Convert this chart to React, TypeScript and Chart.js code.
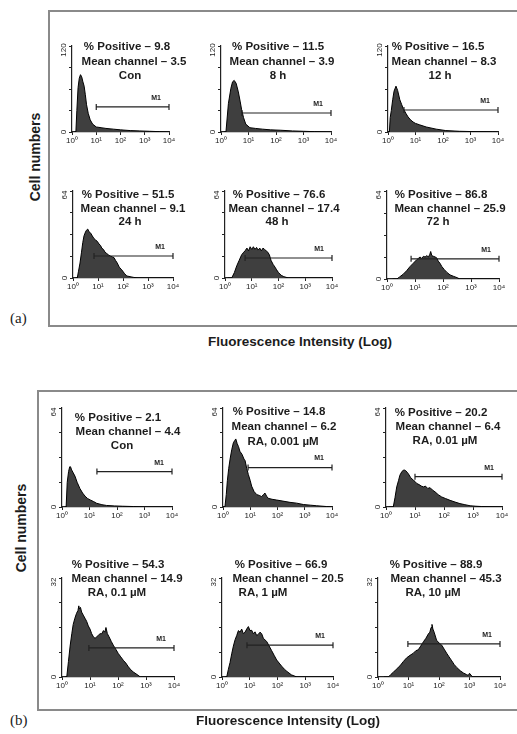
import React, { useEffect, useRef } from "react";
import { Chart, registerables } from "chart.js";
Chart.register(...registerables);

// ---------- DATA ----------
const X_TICKS = [0, 1, 2, 3, 4];
const X_TICK_LABELS = ["10⁰", "10¹", "10²", "10³", "10⁴"];

const POSITIVE = ["9.8", "11.5", "16.5", "51.5", "76.6", "86.8", "2.1", "14.8", "20.2", "54.3", "66.9", "88.9"];
const MEAN_CHANNEL = ["3.5", "3.9", "8.3", "9.1", "17.4", "25.9", "4.4", "6.2", "6.4", "14.9", "20.5", "45.3"];
const CONDITIONS = ["Con", "8 h", "12 h", "24 h", "48 h", "72 h", "Con", "RA, 0.001 µM", "RA, 0.01 µM", "RA, 0.1 µM", "RA, 1 µM", "RA, 10 µM"];
const Y_MAX = [120, 120, 120, 64, 64, 64, 64, 64, 64, 32, 32, 32];
const M1_START = [1.0, 0.76, 0.58, 0.84, 0.75, 0.86, 1.27, 0.92, 1.0, 0.96, 0.9, 0.98];
const M1_LEVEL = [35, 26.5, 30.7, 16.2, 14.7, 14.7, 22.9, 25.5, 19.6, 9.4, 10.3, 10.7];

// log10 fluorescence (x) and cell counts (y) per panel
const CON_A_X = [0.1, 0.16, 0.2, 0.25, 0.3, 0.35, 0.4, 0.45, 0.5, 0.55, 0.6, 0.67, 0.75, 0.85, 1.0, 1.2, 1.4, 1.7, 2.0, 2.4, 2.8, 3.2, 3.6, 4.0];
const CON_A_Y = [0, 0, 30, 62, 75, 80, 77, 70, 64, 52, 38, 26, 17, 11, 7, 6, 5, 4, 3, 2, 1.5, 1, 0.5, 0];

const H8_X = [0.1, 0.18, 0.27, 0.36, 0.42, 0.48, 0.55, 0.63, 0.7, 0.75, 0.82, 0.9, 1.05, 1.25, 1.5, 1.8, 2.15, 2.6, 3.0, 3.4, 4.0];
const H8_Y = [0, 0, 40, 61, 70, 72, 68, 56, 42, 31, 20, 11, 6, 5, 4, 3, 2.5, 1.5, 1, 0.5, 0];

const H12_X = [0.0, 0.05, 0.08, 0.12, 0.17, 0.22, 0.29, 0.35, 0.43, 0.5, 0.55, 0.65, 0.73, 0.82, 0.91, 1.0, 1.15, 1.39, 1.75, 2.1, 2.6, 3.2, 3.8, 4.0];
const H12_Y = [0, 0, 20, 30, 45, 57, 64, 58, 45, 38, 33, 26, 21, 17, 14, 12, 10, 7, 4, 2, 1, 0.5, 0.3, 0];

const H24_X = [0.1, 0.17, 0.22, 0.28, 0.34, 0.39, 0.44, 0.48, 0.53, 0.59, 0.64, 0.71, 0.77, 0.84, 0.9, 0.97, 1.04, 1.1, 1.15, 1.22, 1.28, 1.35, 1.42, 1.51, 1.58, 1.64, 1.7, 1.77, 1.85, 1.95, 2.05, 2.15, 2.28, 2.41, 2.6, 4.0];
const H24_Y = [0, 0, 5, 11, 19, 26, 31, 33, 35, 36, 34, 33, 31, 29, 28, 27, 25, 24, 22, 21, 19, 18, 17, 16, 15.5, 15, 13, 11, 8, 6, 3.5, 1.5, 1, 0.5, 0, 0];

const H48_X = [0.1, 0.25, 0.35, 0.44, 0.53, 0.62, 0.7, 0.75, 0.82, 0.88, 0.94, 1.0, 1.06, 1.12, 1.18, 1.24, 1.3, 1.36, 1.42, 1.48, 1.54, 1.6, 1.66, 1.72, 1.8, 1.87, 1.93, 2.0, 2.1, 2.2, 2.37, 4.0];
const H48_Y = [0, 0, 4, 9, 13, 17, 19, 20, 22, 20, 23, 21, 23, 21, 22.5, 20.5, 22, 20, 22, 21, 20, 19, 17, 13, 10, 8, 6, 4, 2, 1, 0, 0];

const H72_X = [0.2, 0.35, 0.45, 0.58, 0.7, 0.82, 0.94, 1.06, 1.12, 1.18, 1.24, 1.3, 1.36, 1.42, 1.48, 1.53, 1.56, 1.6, 1.66, 1.72, 1.77, 1.83, 1.89, 1.96, 2.04, 2.13, 2.25, 2.37, 2.5, 2.6, 4.0];
const H72_Y = [0, 0, 1.5, 3.5, 6, 9, 11.5, 14, 15, 16, 15, 16.5, 16, 17, 16, 18, 20, 17, 16.5, 16, 15.5, 13, 11.5, 9, 7, 5, 3, 2, 1, 0, 0];

const CON_B_X = [0.1, 0.15, 0.19, 0.24, 0.28, 0.31, 0.35, 0.41, 0.47, 0.55, 0.65, 0.75, 0.84, 0.93, 1.02, 1.15, 1.26, 1.45, 1.62, 1.9, 2.2, 2.6, 3.0, 4.0];
const CON_B_Y = [0, 0, 16, 23, 26, 26, 24, 22, 20, 16, 12, 9, 7, 5.5, 4.6, 3.5, 2.4, 1.5, 1, 0.7, 0.5, 0.3, 0, 0];

const RA0001_X = [0.0, 0.07, 0.12, 0.16, 0.21, 0.26, 0.32, 0.38, 0.43, 0.47, 0.52, 0.57, 0.62, 0.7, 0.77, 0.81, 0.87, 0.93, 1.0, 1.05, 1.14, 1.24, 1.33, 1.42, 1.48, 1.54, 1.6, 1.66, 1.8, 1.97, 2.2, 2.46, 2.7, 2.95, 3.2, 3.44, 3.8, 4.0];
const RA0001_Y = [0, 0, 8, 17, 25, 31, 37, 41.5, 43, 44, 41, 39, 36, 34, 31, 30, 25, 21, 17, 13.5, 10, 8, 7.5, 6.7, 8, 9, 7, 5.6, 5, 4.5, 3.8, 3, 2.5, 1.6, 1.2, 0.8, 0.3, 0];

const RA001_X = [0.1, 0.25, 0.31, 0.37, 0.43, 0.48, 0.55, 0.62, 0.68, 0.77, 0.85, 0.94, 1.0, 1.06, 1.14, 1.22, 1.29, 1.36, 1.44, 1.52, 1.6, 1.69, 1.8, 1.92, 2.05, 2.21, 2.38, 2.55, 2.72, 2.9, 3.1, 3.3, 4.0];
const RA001_Y = [0, 0, 6, 13, 17, 20.6, 23, 24, 23.5, 21.5, 19, 17.4, 16.5, 15.2, 14.5, 13.5, 13, 13.5, 12, 12.5, 11, 9.8, 8, 6.5, 5.5, 4.3, 3.2, 2.2, 1.5, 0.8, 0.5, 0.3, 0];

const RA01_X = [0.1, 0.17, 0.23, 0.29, 0.35, 0.4, 0.46, 0.52, 0.57, 0.6, 0.62, 0.66, 0.7, 0.76, 0.82, 0.88, 0.94, 1.0, 1.06, 1.12, 1.18, 1.24, 1.3, 1.36, 1.42, 1.48, 1.53, 1.57, 1.62, 1.68, 1.76, 1.83, 1.92, 2.01, 2.1, 2.19, 2.28, 2.37, 2.46, 2.55, 2.68, 2.8, 4.0];
const RA01_Y = [0, 0, 5, 10, 14, 17, 19, 20.6, 21.5, 23, 22, 22.5, 21, 20, 19, 18, 16.5, 15.5, 14, 13, 12.5, 13, 13.5, 14, 14, 15, 14.5, 16, 14, 13, 11.5, 10.3, 9, 7.6, 6.5, 5.4, 4.5, 3.3, 2.3, 1.6, 0.8, 0, 0];

const RA1_X = [0.1, 0.17, 0.23, 0.29, 0.35, 0.41, 0.47, 0.53, 0.59, 0.65, 0.71, 0.77, 0.83, 0.89, 0.95, 1.01, 1.07, 1.13, 1.19, 1.25, 1.31, 1.37, 1.43, 1.49, 1.55, 1.61, 1.7, 1.79, 1.88, 1.97, 2.06, 2.15, 2.25, 2.34, 2.5, 2.7, 4.0];
const RA1_Y = [0, 0, 2.5, 4.7, 7.5, 10, 12, 13.4, 15, 14.5, 15.5, 14, 14.5, 15.5, 16.3, 15, 15.1, 14, 14.6, 13.4, 13.8, 14.5, 14, 12.5, 12, 11.5, 10, 8.5, 7, 5.5, 4.5, 3.5, 2.5, 1.8, 0.7, 0, 0];

const RA10_X = [0.2, 0.34, 0.42, 0.5, 0.6, 0.72, 0.83, 0.94, 1.05, 1.16, 1.24, 1.32, 1.4, 1.49, 1.57, 1.65, 1.7, 1.74, 1.77, 1.8, 1.84, 1.92, 2.0, 2.09, 2.17, 2.25, 2.33, 2.42, 2.5, 2.58, 2.7, 2.8, 2.9, 2.96, 3.0, 3.1, 4.0];
const RA10_Y = [0, 0, 0.8, 1.5, 2.5, 3.6, 5, 6.2, 7, 7.7, 8.5, 8.8, 10, 11.4, 12.5, 13.9, 14.5, 16, 17, 15.5, 14.5, 11.9, 11, 10.3, 9, 7.7, 6.5, 5.2, 4, 3.1, 2, 1.3, 0.8, 0.5, 1.2, 0, 0];

const SERIES_X = [CON_A_X, H8_X, H12_X, H24_X, H48_X, H72_X, CON_B_X, RA0001_X, RA001_X, RA01_X, RA1_X, RA10_X];
const SERIES_Y = [CON_A_Y, H8_Y, H12_Y, H24_Y, H48_Y, H72_Y, CON_B_Y, RA0001_Y, RA001_Y, RA01_Y, RA1_Y, RA10_Y];

// ---------- LAYOUT ----------
const LAYOUT = [
  { ax: 72, rx: 169, ty: 46, by: 132, lx: [127, 134, 130], ly: [47, 62, 76] },
  { ax: 221, rx: 331, ty: 46, by: 132, lx: [278, 282, 278], ly: [47, 62, 76] },
  { ax: 388, rx: 498, ty: 46, by: 132, lx: [438, 444, 440], ly: [47, 62, 76] },
  { ax: 73, rx: 173, ty: 191, by: 278, lx: [128, 133, 130], ly: [195, 209, 222] },
  { ax: 225, rx: 332, ty: 191, by: 278, lx: [279, 284, 277], ly: [195, 209, 222] },
  { ax: 387, rx: 499, ty: 191, by: 279, lx: [441, 450, 438], ly: [195, 209, 222] },
  { ax: 62, rx: 172, ty: 408, by: 507, lx: [118, 128, 122], ly: [418, 432, 446] },
  { ax: 223, rx: 332, ty: 408, by: 507, lx: [279, 284, 283], ly: [412, 427, 442] },
  { ax: 386, rx: 502, ty: 408, by: 507, lx: [441, 448, 445], ly: [413, 427, 441] },
  { ax: 62, rx: 174, ty: 578, by: 677, lx: [118, 127, 117], ly: [565, 579, 593] },
  { ax: 222, rx: 333, ty: 578, by: 677, lx: [281, 288, 263], ly: [565, 579, 593] },
  { ax: 378, rx: 500, ty: 578, by: 677, lx: [436, 446, 433], ly: [565, 579, 593] },
];
const PADL = 25, PADT = 45, PADR = 24, PADB = 16;
const SANS = '"Liberation Sans", Arial, Helvetica, sans-serif';

function Panel({ i }: { i: number }) {
  const ref = useRef<HTMLCanvasElement>(null);
  const L = LAYOUT[i];
  const left = L.ax - PADL;
  const top = L.ty - PADT;
  const w = L.rx - L.ax + PADL + PADR;
  const h = L.by - L.ty + PADT + PADB;

  useEffect(() => {
    if (!ref.current) return;
    const ymax = Y_MAX[i];
    const pts = SERIES_X[i].map((x, k) => ({ x, y: SERIES_Y[i][k] }));
    const annot = {
      id: "annot" + i,
      afterDraw(chart: any) {
        const ctx = chart.ctx;
        const xs = chart.scales.x;
        const ys = chart.scales.y;
        ctx.save();
        // rotated y labels
        ctx.fillStyle = "#222";
        ctx.font = `8px ${SANS}`;
        ctx.textAlign = "center";
        ctx.textBaseline = "middle";
        const yl: [number, number][] = [
          [0, ys.getPixelForValue(0)],
          [ymax, ys.getPixelForValue(ymax) + 4],
        ];
        yl.forEach(([v, py]) => {
          ctx.save();
          ctx.translate(xs.left - 8, py);
          ctx.rotate(-Math.PI / 2);
          ctx.fillText(String(v), 0, 0);
          ctx.restore();
        });
        // M1 marker
        const x1 = xs.getPixelForValue(M1_START[i]);
        const x2 = xs.getPixelForValue(4);
        const py = ys.getPixelForValue(M1_LEVEL[i]);
        ctx.strokeStyle = "#222";
        ctx.lineWidth = 1.2;
        ctx.beginPath();
        ctx.moveTo(x1, py);
        ctx.lineTo(x2, py);
        ctx.moveTo(x1, py - 3);
        ctx.lineTo(x1, py + 3);
        ctx.moveTo(x2, py - 3);
        ctx.lineTo(x2, py + 3);
        ctx.stroke();
        ctx.font = `bold 7px ${SANS}`;
        ctx.fillText("M1", x2 - 13, py - 9);
        // text block
        ctx.font = `bold 11.5px ${SANS}`;
        ctx.fillStyle = "#1c1c1c";
        const lines = [`% Positive – ${POSITIVE[i]}`, `Mean channel – ${MEAN_CHANNEL[i]}`, CONDITIONS[i]];
        lines.forEach((t, k) => ctx.fillText(t, L.lx[k] - left, L.ly[k] - top));
        ctx.restore();
      },
    };
    const chart = new Chart(ref.current, {
      type: "line",
      data: {
        datasets: [
          {
            data: pts,
            fill: "origin",
            backgroundColor: "#3f3f3f",
            borderColor: "#000",
            borderWidth: 1,
            pointRadius: 0,
            tension: 0,
          },
        ],
      },
      options: {
        animation: false,
        responsive: false,
        devicePixelRatio: 1,
        layout: { padding: { top: PADT, right: PADR, left: 0, bottom: 0 } },
        plugins: { legend: { display: false }, tooltip: { enabled: false }, title: { display: false } },
        scales: {
          x: {
            type: "linear",
            min: 0,
            max: 4,
            ticks: {
              stepSize: 1,
              maxRotation: 0,
              padding: 1,
              color: "#222",
              font: { size: 8, family: SANS },
              callback: (v: any) => {
                const k = X_TICKS.indexOf(Number(v));
                return k >= 0 ? X_TICK_LABELS[k] : "";
              },
            },
            grid: { display: true, drawOnChartArea: false, drawTicks: true, tickLength: 3, color: "#222" },
            border: { display: true, color: "#222", width: 1.2 },
            afterFit: (s: any) => {
              s.height = PADB;
            },
          },
          y: {
            min: 0,
            max: ymax,
            ticks: { stepSize: ymax / 4, callback: () => "", padding: 0 },
            grid: { display: true, drawOnChartArea: false, drawTicks: true, tickLength: 3, color: "#222" },
            border: { display: true, color: "#222", width: 1.2 },
            afterFit: (s: any) => {
              s.width = PADL;
            },
          },
        },
      },
      plugins: [annot],
    } as any);
    return () => chart.destroy();
  }, [i]);

  return (
    <canvas
      ref={ref}
      width={w}
      height={h}
      style={{ position: "absolute", left, top, width: w, height: h }}
    />
  );
}

export default function App() {
  const boldLabel = { fontFamily: SANS, fontWeight: 700, color: "#1c1c1c", whiteSpace: "nowrap" as const, position: "absolute" as const };
  return (
    <div style={{ position: "absolute", left: 0, top: 0, width: 517, height: 734, overflow: "hidden", background: "#fff" }}>
      <div style={{ position: "absolute", left: 48, top: 10, width: 480, height: 317, border: "2px solid #8a8a8a", boxSizing: "border-box" }} />
      <div style={{ position: "absolute", left: 37, top: 390, width: 490, height: 321, border: "2px solid #8a8a8a", boxSizing: "border-box" }} />
      {LAYOUT.map((_, i) => (
        <Panel key={i} i={i} />
      ))}
      <div style={{ ...boldLabel, left: 35, top: 157, fontSize: 14, transform: "translate(-50%, -50%) rotate(-90deg)" }}>Cell numbers</div>
      <div style={{ ...boldLabel, left: 21, top: 528, fontSize: 14, transform: "translate(-50%, -50%) rotate(-90deg)" }}>Cell numbers</div>
      <div style={{ ...boldLabel, left: 300, top: 341, fontSize: 13.5, transform: "translate(-50%, -50%)" }}>Fluorescence Intensity (Log)</div>
      <div style={{ ...boldLabel, left: 288, top: 720, fontSize: 13.5, transform: "translate(-50%, -50%)" }}>Fluorescence Intensity (Log)</div>
      <div style={{ position: "absolute", left: 10, top: 318, transform: "translateY(-50%)", fontFamily: '"Liberation Serif", serif', fontSize: 15, color: "#222" }}>(a)</div>
      <div style={{ position: "absolute", left: 10, top: 720, transform: "translateY(-50%)", fontFamily: '"Liberation Serif", serif', fontSize: 15, color: "#222" }}>(b)</div>
    </div>
  );
}
